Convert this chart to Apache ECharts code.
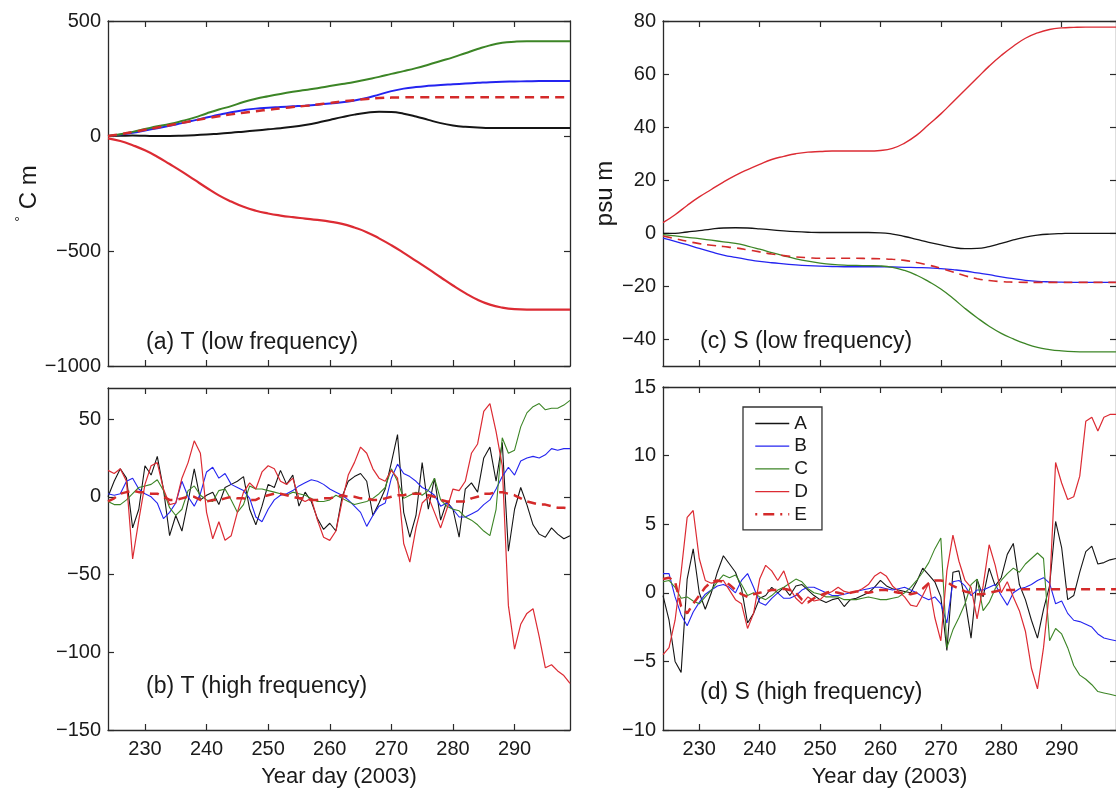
<!DOCTYPE html>
<html>
<head>
<meta charset="utf-8">
<script src="https://cdn.jsdelivr.net/npm/echarts@6/dist/echarts.min.js"></script>
<style>
html,body{margin:0;padding:0;background:#fff;}
#chart{width:1116px;height:789px;}
</style>
</head>
<body>
<div id="chart"></div>
<script>
// ---------- data ----------
const seriesNames = ['A', 'B', 'C', 'D', 'E'];
const xTicks = [230, 240, 250, 260, 270, 280, 290];
const yTicksA = [-1000, -500, 0, 500];
const yTicksB = [-150, -100, -50, 0, 50];
const yTicksC = [-40, -20, 0, 20, 40, 60, 80];
const yTicksD = [-10, -5, 0, 5, 10, 15];

// low-frequency sample days
const lowDays = [224,226,228,230,232,234,236,238,240,242,244,246,248,250,252,254,256,258,260,262,264,266,268,270,272,274,276,278,280,282,284,286,288,290,292,294,296,298,299];
// (a) T low frequency
const T_A = [0,1,2,1,0,0,1,3,6,10,14,19,24,29,34,40,48,58,70,82,93,101,105,104,97,85,70,56,46,40,37,35,35,35,35,35,35,35,35];
const T_B = [0,6,14,24,34,44,56,68,80,92,103,112,119,123,126,129,132,136,141,147,154,165,180,195,206,213,218,222,225,228,231,234,236,237,238,239,239,239,239];
const T_C = [0,8,18,30,42,52,65,80,98,115,130,148,162,173,183,192,200,208,217,226,235,246,257,270,282,295,310,326,342,360,378,394,405,410,412,412,412,412,412];
const T_D = [-10,-22,-40,-62,-90,-122,-155,-190,-225,-258,-285,-308,-325,-337,-346,-353,-359,-365,-372,-382,-398,-418,-445,-475,-508,-543,-578,-614,-650,-683,-712,-733,-746,-753,-755,-755,-755,-755,-755];
const T_E = [0,8,17,27,37,47,57,67,77,86,94,101,108,114,120,126,131,137,143,150,156,161,165,167,168,169,169,169,169,169,169,169,169,169,169,169,169,169,169];
// (c) S low frequency
const S_A = [0,0,0.5,1,1.6,2,2.1,2,1.7,1.3,0.9,0.6,0.4,0.3,0.3,0.3,0.3,0.3,0.2,-0.3,-1.2,-2.3,-3.4,-4.4,-5.3,-5.8,-5.7,-5,-3.8,-2.5,-1.4,-0.7,-0.3,-0.1,0,0,0,0,0];
const S_B = [-1.8,-3,-4.3,-5.7,-7,-8.2,-9.1,-9.9,-10.6,-11.1,-11.5,-11.9,-12.2,-12.4,-12.5,-12.6,-12.6,-12.6,-12.6,-12.7,-12.8,-12.9,-13,-13.3,-13.7,-14.2,-14.9,-15.6,-16.4,-17.1,-17.7,-18.1,-18.3,-18.4,-18.5,-18.5,-18.5,-18.5,-18.5];
const S_C = [-0.5,-1,-1.5,-2,-2.6,-3.2,-3.8,-4.8,-6,-7.3,-8.5,-9.6,-10.5,-11.2,-11.7,-12,-12.1,-12.2,-12.3,-12.8,-14,-15.8,-18.2,-21,-24.5,-28.3,-31.8,-35,-37.7,-39.8,-41.6,-43,-43.8,-44.3,-44.6,-44.7,-44.7,-44.7,-44.7];
const S_D = [4,7,10.5,13.7,16.5,19.3,21.8,24,26,27.8,29,30,30.6,30.8,31,31,31,31,31.2,32,34,37,41,45,49.5,54,58.5,63,67,70.5,73.5,75.5,76.8,77.4,77.6,77.7,77.7,77.7,77.7];
const S_E = [-1,-2,-3,-3.9,-4.5,-5,-5.5,-6.2,-7,-7.8,-8.4,-8.9,-9.2,-9.4,-9.4,-9.4,-9.4,-9.5,-9.6,-9.8,-10.2,-11,-12,-13.2,-14.6,-16,-17.1,-17.8,-18.2,-18.4,-18.5,-18.5,-18.5,-18.5,-18.5,-18.5,-18.5,-18.5,-18.5];

// high-frequency sample days
const highDays = [224,225,226,227,228,229,230,231,232,233,234,235,236,237,238,239,240,241,242,243,244,245,246,247,248,249,250,251,252,253,254,255,256,257,258,259,260,261,262,263,264,265,266,267,268,269,270,271,272,273,274,275,276,277,278,279,280,281,282,283,284,285,286,287,288,289,290,291,292,293,294,295,296,297,298,299];
// (b) T high frequency
const TH_A = [0,10,18,12,-20,-8,20,14,26,5, -25,-12,-22,-3,18,-2,1,3,-5,6, 8,10,13,-8,-18,-6,8,6,17,8, 14,-6,3,-3,-14,-21,-17,-22,0,10, 13,15,10,-12,-4,5,22,40,-10,-26, -12,22,-8,12,-15,-3,-8,-26,5,9, 3,25,32,10,35,-35,-8,6,-5,-18, -24,-26,-20,-24,-27,-25];
const TH_B = [2,1,2,10,12,5,2,0,-4,-14, -10,-4,10,0,-6,2,16,19,12,15, 8,6,4,-1,-13,-16,-8,-2,1,2, 4,7,9,11,10,8,5,3,1,-2, -6,-10,-19,-12,-6,-4,12,21,15,13, 10,6,4,1,-6,-4,-8,-13,-13,-11, -9,-5,-2,5,13,19,14,23,25,26, 25,27,31,30,31,31];
const TH_C = [-3,-5,-5,-2,2,6,7,8,11,4, -7,-12,-8,4,7,1,-2,-3,4,5, -2,-10,-5,7,5,5,4,3,2,1, 3,2,1,-1,-3,-3,-2,1,-1,-3, -5,-4,-3,-1,2,6,18,10,-1,1, 3,1,4,12,-2,-6,-8,-9,-13,-15, -18,-22,-25,-8,38,28,30,45,54,58, 60,56,57,57,59,62];
const TH_D = [17,15,18,10,-40,-15,8,20,22,5, -5,-4,12,22,36,28,-10,-27,-16,-28, -25,-10,3,9,5,16,20,18,10,8, 12,-1,-3,-1,-15,-26,-28,-22,-3,14, 22,32,28,18,12,10,17,12,-30,-42, -20,-4,0,-10,-20,-8,5,4,10,28, 34,55,60,42,20,-70,-98,-82,-75,-72, -90,-110,-108,-112,-115,-120];
const TH_E = [-3,-1,2,3,4,3,3,2,2,0, -2,-2,-1,0,0,-2,-3,-2,-2,-1, 0,-1,-1,-2,-2,0,1,2,2,1, 0,-1,-1,-2,-2,-1,-1,0,1,0, 0,-1,-1,-2,-2,-1,0,1,1,2, 2,2,1,0,-2,-3,-3,-3,-3,-1, 0,2,2,3,3,2,1,-1,-3,-4, -5,-5,-6,-7,-7,-7.5];
// (d) S high frequency
const SH_A = [-0.2,-2,-5,-5.8,1,3.2,0,-1.2,0,1.5, 2.7,2.1,1.5,0.3,-2.2,-1.5,-0.4,-0.2,0.4,0, 0.4,-0.2,0.5,0.6,0.2,-0.2,-0.5,-0.7,-0.5,-0.4, -1,-0.5,-0.4,-0.2,0,0.4,0.9,0.5,0.3,0.2, 0.1,0,0.8,1.8,1.3,0.8,-0.3,-4.2,1.5,1.6, -0.5,-3.3,1,-0.3,1.8,0.5,1.1,2.8,3.6,0.6, -0.5,-2,-3.3,-1.2,0.5,5.2,3.3,-0.5,-0.2,1.5, 3,3.4,2.1,2.2,2.4,2.5];
const SH_B = [1.4,1.4,-0.3,-1.6,-2.4,-1.4,-0.7,-0.1,0.2,0.5, 0.6,0.4,0,0.9,1.4,0.4,-0.7,-0.9,-0.4,0, -0.4,-0.4,-0.2,0.2,0.4,0.4,0.2,0,-0.2,-0.2, -0.1,0,0.1,0.2,0.3,0.4,0.4,0.3,0.2,0.3, 0.4,0.2,0,-0.3,-0.5,-0.3,-0.8,-2.2,0.8,0.9, 0.5,-0.2,0.2,0.2,0.4,0.6,-0.2,-0.9,0,0.3, 0.4,0.6,0.9,1.1,0.7,-0.8,-0.6,-1.5,-2,-2.1, -2.3,-2.5,-3,-3.3,-3.4,-3.5];
const SH_C = [0.8,0.9,0.4,-0.4,-0.3,-0.6,-0.8,-0.3,0.2,0.8, 1.3,1.1,1.3,0.6,-0.2,0,-0.3,-0.5,-0.2,0.2, 0.4,0.7,1,0.8,0.3,0,-0.1,-0.3,-0.3,-0.3, -0.5,-0.5,-0.5,-0.4,-0.3,-0.4,-0.5,-0.5,-0.4,-0.3, 0,0.4,0.9,1.5,2.2,3.2,4,-4,-2.7,-1.8, -0.8,0.6,1,-1.3,-0.7,0.3,0.9,1.4,1.8,1.5, 2.1,2.5,2.9,2.5,-3.5,-2.6,-3,-4,-5.3,-6, -6.3,-6.7,-7.2,-7.3,-7.4,-7.5];
const SH_D = [-4.5,-4,-2,1.5,5.5,6,2.5,0.9,0.7,0.8, 0.9,0.2,-0.5,-0.8,-2.6,-1.5,1,2,1.6,0.9, 1.6,0.3,-0.4,-0.8,-0.3,-0.6,-0.5,-0.1,0.1,0.4, 0.1,0,0.1,0.3,0.6,1.2,1.5,1.2,0.5,0.1, -0.3,-0.9,-1,-0.2,0.7,-1.8,-3.5,1.6,4.2,2.3, 0.9,0.4,-1.9,0.5,3.5,2,0,0.8,-0.3,-1.3, -2.8,-5.5,-7,-4,0.2,9.5,8,6.8,7,8.5, 12.5,12.8,11.8,12.8,13,13];
const SH_E = [1,1.1,0.8,-1,-1.5,-0.8,-0.2,0.4,0.8,0.9, 0.8,0.6,0.2,-0.1,-0.3,-0.1,0,0.1,0.2,0.2, 0.3,0.2,0,-0.5,-0.7,-0.4,-0.2,0,0.1,0, -0.1,0,0.1,0.1,0,0.1,0.2,0.2,0.1,0, 0,-0.1,0,0.3,0.7,0.9,0.9,0.8,0.5,0.3, 0.1,0,-0.1,-0.1,0,0.1,0.2,0.2,0.2,0.25, 0.25,0.25,0.25,0.25,0.25,0.25,0.25,0.25,0.25,0.25, 0.25,0.25,0.25,0.25,0.25,0.25];

// ---------- styling ----------
const FONT = 'Liberation Sans, Arial, Helvetica, sans-serif';
const colors = {A: '#151515', B: '#2424f0', C: '#3c8526', D: '#dc2b33', E: '#d42a2a'};
const AXIS_COLOR = '#2a2a2a';
const minus = v => String(v).replace('-', '\u2212');

const grids = [
  {left: 108, top: 21, width: 462, height: 345},
  {left: 108, top: 388, width: 462, height: 345},
  {left: 663, top: 21, width: 461.5, height: 345},
  {left: 663, top: 387, width: 461.5, height: 346}
];

function xAx(gi, pos, showLabels, name) {
  return {
    type: 'value', gridIndex: gi, position: pos, min: 224, max: 299,
    axisLine: {show: true, onZero: false, lineStyle: {color: AXIS_COLOR, width: 1.3}},
    axisTick: {show: true, inside: true, length: 6, customValues: xTicks, lineStyle: {color: AXIS_COLOR, width: 1.2}},
    axisLabel: {show: showLabels, customValues: xTicks, fontSize: 20, color: '#1a1a1a', fontFamily: FONT, margin: 9},
    splitLine: {show: false},
    name: name || '', nameLocation: 'middle', nameGap: 36,
    nameTextStyle: {fontSize: 22, color: '#1a1a1a', fontFamily: FONT}
  };
}
function yAx(gi, pos, min, max, ticks, showLabels, name, nameGap, nameRich) {
  return {
    type: 'value', gridIndex: gi, position: pos, min: min, max: max,
    axisLine: {show: true, onZero: false, lineStyle: {color: AXIS_COLOR, width: 1.3}},
    axisTick: {show: true, inside: true, length: 6, customValues: ticks, lineStyle: {color: AXIS_COLOR, width: 1.2}},
    axisLabel: {show: showLabels, customValues: ticks, fontSize: 20, color: '#1a1a1a', fontFamily: FONT, margin: 7, formatter: minus},
    splitLine: {show: false},
    name: name || '', nameLocation: 'middle', nameGap: nameGap || 0, nameRotate: 90,
    nameTextStyle: Object.assign({fontSize: 24, color: '#1a1a1a', fontFamily: FONT}, nameRich ? {rich: nameRich} : {})
  };
}

const xAxes = [
  xAx(0, 'bottom', false), xAx(1, 'bottom', true, 'Year day (2003)'),
  xAx(2, 'bottom', false), xAx(3, 'bottom', true, 'Year day (2003)'),
  xAx(0, 'top', false), xAx(1, 'top', false), xAx(2, 'top', false), xAx(3, 'top', false)
];
const yAxes = [
  yAx(0, 'left', -1000, 500, yTicksA, true, '{deg|°}{u| C m}', 64,
      {deg: {fontSize: 14, fontFamily: FONT, color: '#1a1a1a', padding: [0, 0, 16, 0]},
       u: {fontSize: 24, fontFamily: FONT, color: '#1a1a1a'}}),
  yAx(1, 'left', -150, 70, yTicksB, true),
  yAx(2, 'left', -50, 80, yTicksC, true, 'psu m', 46),
  yAx(3, 'left', -10, 15, yTicksD, true),
  yAx(0, 'right', -1000, 500, yTicksA, false),
  yAx(1, 'right', -150, 70, yTicksB, false),
  yAx(2, 'right', -50, 80, yTicksC, false),
  yAx(3, 'right', -10, 15, yTicksD, false)
];

function pairs(xs, ys) { return xs.map((x, i) => [x, ys[i]]); }
function mk(name, gi, xs, ys, width, smooth, dashed) {
  return {
    name: name, type: 'line', xAxisIndex: gi, yAxisIndex: gi,
    data: pairs(xs, ys), symbol: 'none', smooth: smooth, animation: false,
    lineStyle: {color: colors[name], width: width, type: dashed ? [9, 6] : 'solid'},
    itemStyle: {color: colors[name]}, z: name === 'E' ? 3 : 2
  };
}

const series = [];
const panels = [
  {gi: 0, xs: lowDays, d: [T_A, T_B, T_C, T_D, T_E], w: [2, 2, 2, 2.2, 2.5], smooth: 0.5},
  {gi: 1, xs: highDays, d: [TH_A, TH_B, TH_C, TH_D, TH_E], w: [1.1, 1.1, 1.1, 1.2, 2.5], smooth: false},
  {gi: 2, xs: lowDays, d: [S_A, S_B, S_C, S_D, S_E], w: [1.3, 1.3, 1.3, 1.4, 1.6], smooth: 0.5},
  {gi: 3, xs: highDays, d: [SH_A, SH_B, SH_C, SH_D, SH_E], w: [1.1, 1.1, 1.1, 1.2, 2.5], smooth: false}
];
panels.forEach(p => {
  seriesNames.forEach((n, i) => {
    series.push(mk(n, p.gi, p.xs, p.d[i], p.w[i], p.smooth, n === 'E'));
  });
});

const labelStyle = {fontSize: 23, fontWeight: 'normal', color: '#1a1a1a', fontFamily: FONT};
const option = {
  animation: false,
  backgroundColor: '#ffffff',
  grid: grids,
  xAxis: xAxes,
  yAxis: yAxes,
  title: [
    {text: '(a) T (low frequency)', left: 146, top: 331, padding: 0, textStyle: labelStyle},
    {text: '(b) T (high frequency)', left: 146, top: 675, padding: 0, textStyle: labelStyle},
    {text: '(c) S (low frequency)', left: 700, top: 330, padding: 0, textStyle: labelStyle},
    {text: '(d) S (high frequency)', left: 700, top: 681, padding: 0, textStyle: labelStyle}
  ],
  legend: {
    orient: 'vertical', left: 743, top: 407,
    padding: [7, 14, 6, 11], itemGap: 3.7, itemWidth: 34, itemHeight: 14,
    backgroundColor: '#ffffff', borderColor: '#333', borderWidth: 1.3,
    itemStyle: {opacity: 0},
    lineStyle: {width: 1.3},
    textStyle: {fontSize: 19, color: '#1a1a1a', fontFamily: FONT, lineHeight: 18},
    selectedMode: false,
    data: [
      {name: 'A'}, {name: 'B'}, {name: 'C'}, {name: 'D'},
      {name: 'E', itemStyle: {opacity: 0}, lineStyle: {type: [2, 6, 11, 6], width: 2.5, color: colors.E}}
    ]
  },
  series: series
};

const chart = echarts.init(document.getElementById('chart'), null, {renderer: 'canvas'});
chart.setOption(option);
</script>
</body>
</html>
